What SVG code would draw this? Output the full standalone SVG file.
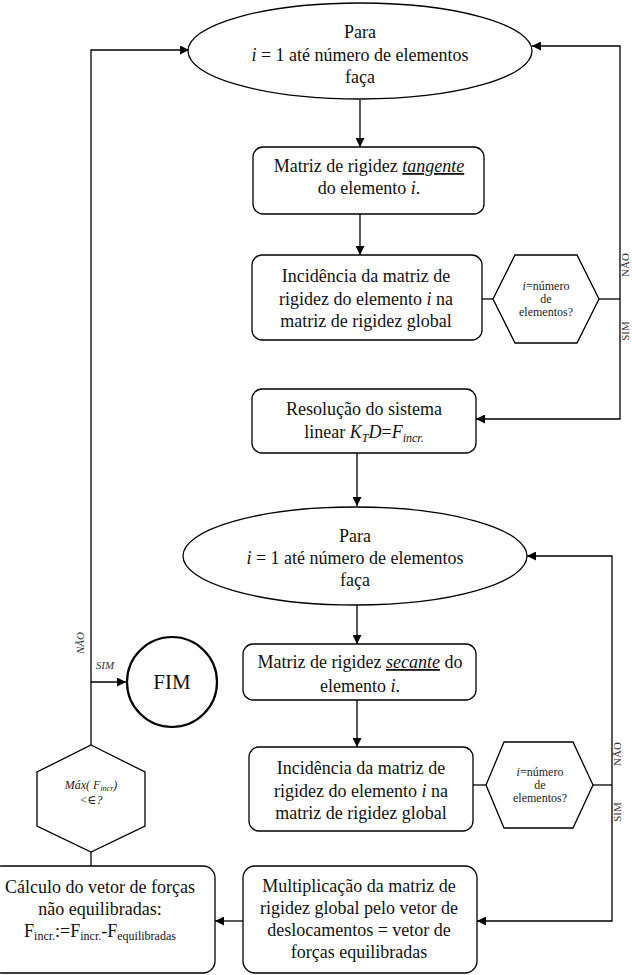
<svg xmlns="http://www.w3.org/2000/svg" width="632" height="975" viewBox="0 0 632 975">
<style>
.n{fill:#fff;stroke:#000;stroke-width:1.3}
text{font-family:'Liberation Serif',Tinos,'Times New Roman','DejaVu Serif',serif}
.t{font-size:18px;fill:#111;text-anchor:middle}
.s{font-size:12px;fill:#222;text-anchor:middle}
.l{font-size:11px;fill:#333;text-anchor:middle}
.c{fill:none;stroke:#000;stroke-width:1.3}
</style>
<defs>
<marker id="a" viewBox="0 0 10 10" refX="10" refY="5" markerWidth="9" markerHeight="9" markerUnits="userSpaceOnUse" orient="auto">
<path d="M0,0 L10,5 L0,10 z" fill="#000"/>
</marker>
</defs>
<g id="connectors">
<path class="c" d="M360,100 V147" marker-end="url(#a)"/>
<path class="c" d="M360,214 V255" marker-end="url(#a)"/>
<path class="c" d="M482,299 H493"/>
<path class="c" d="M599,299 H620"/>
<path class="c" d="M620,299 V46 H532" marker-end="url(#a)"/>
<path class="c" d="M620,299 V419 H476" marker-end="url(#a)"/>
<path class="c" d="M357,453 V506" marker-end="url(#a)"/>
<path class="c" d="M357,605 V644" marker-end="url(#a)"/>
<path class="c" d="M357,700 V747" marker-end="url(#a)"/>
<path class="c" d="M473,785 H486"/>
<path class="c" d="M593,785 H612"/>
<path class="c" d="M612,785 V556 H527" marker-end="url(#a)"/>
<path class="c" d="M612,785 V921 H477" marker-end="url(#a)"/>
<path class="c" d="M243,921 H215" marker-end="url(#a)"/>
<path class="c" d="M91,866 V852"/>
<path class="c" d="M91,745 V50 H189" marker-end="url(#a)"/>
<path class="c" d="M91,682 H126" marker-end="url(#a)"/>
<text class="l" transform="translate(629,265) rotate(-90)">NÃO</text>
<text class="l" transform="translate(629,331) rotate(-90)">SIM</text>
<text class="l" transform="translate(621,754) rotate(-90)">NÃO</text>
<text class="l" transform="translate(621,812) rotate(-90)">SIM</text>
<text class="l" font-style="italic" transform="translate(84,643) rotate(-90)">NÃO</text>
<text class="l" font-style="italic" x="105" y="669">SIM</text>
</g>
<g id="loop1">
<ellipse class="n" cx="360" cy="51" rx="172" ry="48"/>
<text class="t" x="360" y="38">Para</text>
<text class="t" x="360" y="61"><tspan font-style="italic">i</tspan> = 1 até número de elementos</text>
<text class="t" x="360" y="83">faça</text>
</g>
<g id="tangente">
<rect class="n" x="253" y="147" width="231" height="67" rx="10"/>
<text class="t" x="369" y="172">Matriz de rigidez <tspan font-style="italic" text-decoration="underline">tangente</tspan></text>
<text class="t" x="369" y="194">do elemento <tspan font-style="italic">i</tspan>.</text>
</g>
<g id="incid1">
<rect class="n" x="252" y="255" width="230" height="85" rx="10"/>
<text class="t" x="366" y="282">Incidência da matriz de</text>
<text class="t" x="366" y="305">rigidez do elemento <tspan font-style="italic">i</tspan> na</text>
<text class="t" x="366" y="327">matriz de rigidez global</text>
</g>
<g id="dec1">
<polygon class="n" points="493,299 515,255 577,255 599,299 577,343 515,343"/>
<text class="s" x="546" y="290"><tspan font-style="italic">i</tspan>=número</text>
<text class="s" x="546" y="303">de</text>
<text class="s" x="546" y="316">elementos?</text>
</g>
<g id="resolucao">
<rect class="n" x="252" y="389" width="224" height="64" rx="10"/>
<text class="t" x="364" y="415">Resolução do sistema</text>
<text class="t" x="364" y="438">linear <tspan font-style="italic">K</tspan><tspan font-style="italic" font-size="12" dy="4">T</tspan><tspan font-style="italic" dy="-4">D</tspan>=<tspan font-style="italic">F</tspan><tspan font-style="italic" font-size="12" dy="4">incr.</tspan></text>
</g>
<g id="loop2">
<ellipse class="n" cx="355" cy="556" rx="172" ry="49"/>
<text class="t" x="355" y="542">Para</text>
<text class="t" x="355" y="564"><tspan font-style="italic">i</tspan> = 1 até número de elementos</text>
<text class="t" x="355" y="586">faça</text>
</g>
<g id="secante">
<rect class="n" x="243" y="644" width="233" height="56" rx="10"/>
<text class="t" x="360" y="668">Matriz de rigidez <tspan font-style="italic" text-decoration="underline">secante</tspan> do</text>
<text class="t" x="360" y="692">elemento <tspan font-style="italic">i</tspan>.</text>
</g>
<g id="incid2">
<rect class="n" x="249" y="747" width="224" height="84" rx="10"/>
<text class="t" x="361" y="774">Incidência da matriz de</text>
<text class="t" x="361" y="797">rigidez do elemento <tspan font-style="italic">i</tspan> na</text>
<text class="t" x="361" y="819">matriz de rigidez global</text>
</g>
<g id="dec2">
<polygon class="n" points="486,785 504,742 573,742 593,785 573,828 504,828"/>
<text class="s" x="540" y="776"><tspan font-style="italic">i</tspan>=número</text>
<text class="s" x="540" y="789">de</text>
<text class="s" x="540" y="802">elementos?</text>
</g>
<g id="multiplicacao">
<rect class="n" x="243" y="866" width="234" height="107" rx="12"/>
<text class="t" x="359" y="892">Multiplicação da matriz de</text>
<text class="t" x="359" y="914">rigidez global pelo vetor de</text>
<text class="t" x="359" y="936">deslocamentos = vetor de</text>
<text class="t" x="359" y="958">forças equilibradas</text>
</g>
<g id="calculo">
<rect class="n" x="-10" y="866" width="225" height="107" rx="12"/>
<text class="t" x="100" y="893">Cálculo do vetor de forças</text>
<text class="t" x="100" y="915">não equilibradas:</text>
<text class="t" x="100" y="937">F<tspan font-size="12" dy="3">incr.</tspan><tspan dy="-3">:=F</tspan><tspan font-size="12" dy="3">incr.</tspan><tspan dy="-3">-F</tspan><tspan font-size="12" dy="3">equilibradas</tspan></text>
</g>
<g id="convergencia">
<polygon class="n" points="91,745 145,772 145,826 91,852 37,826 37,772"/>
<text class="s" x="91" y="789" font-style="italic" fill="#444">Máx( F<tspan font-size="8" dy="2">incr</tspan><tspan dy="-2">)</tspan></text>
<text class="s" x="91" y="804" font-style="italic" fill="#444">&lt;∈?</text>
</g>
<g id="fim">
<circle cx="172" cy="682" r="45" fill="#fff" stroke="#000" stroke-width="2.2"/>
<text x="172" y="689" style="font-size:21px;text-anchor:middle;fill:#111">FIM</text>
</g>
</svg>
